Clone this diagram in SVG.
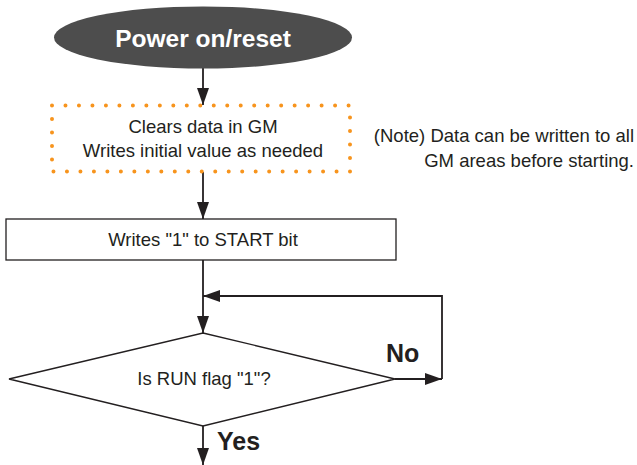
<svg xmlns="http://www.w3.org/2000/svg" width="637" height="465" viewBox="0 0 637 465">
<style>
text{font-family:"Liberation Sans",Arial,sans-serif;fill:#231f20}
.t{font-size:18.5px}
.b{font-size:25px;font-weight:bold}
.ln{stroke:#231f20;stroke-width:1.8;fill:none}
.sh{stroke:#231f20;stroke-width:1.3;fill:#fff}
</style>
<defs>
<marker id="ah" viewBox="0 0 17 12" refX="17" refY="6" markerWidth="17" markerHeight="12" markerUnits="userSpaceOnUse" orient="auto">
<path d="M0,0 L17,6 L0,12 Z" fill="#231f20"/>
</marker>
</defs>
<g id="connectors">
<line class="ln" x1="203" y1="68" x2="203" y2="105" marker-end="url(#ah)"/>
<line class="ln" x1="203" y1="172" x2="203" y2="219" marker-end="url(#ah)"/>
<line class="ln" x1="203" y1="260" x2="203" y2="333" marker-end="url(#ah)"/>
<line class="ln" x1="395" y1="379" x2="442" y2="379" marker-end="url(#ah)"/>
<polyline class="ln" points="442,379 442,296 203,296" marker-end="url(#ah)"/>
<line class="ln" x1="203" y1="426" x2="203" y2="465" marker-end="url(#ah)"/>
<text class="b" x="386" y="362">No</text>
<text class="b" x="217" y="450">Yes</text>
</g>
<g id="start">
<ellipse cx="203" cy="37.5" rx="149" ry="31" fill="#4d4d4d"/>
<text class="b" x="203" y="47" text-anchor="middle" style="fill:#fff;font-size:24.5px">Power on/reset</text>
</g>
<g id="clear">
<rect x="52" y="105.5" width="298" height="66" fill="none" stroke="#f7941d" stroke-width="4" stroke-linecap="round" stroke-dasharray="0 13.48"/>
<text class="t" x="203" y="133" text-anchor="middle">Clears data in GM</text>
<text class="t" x="203" y="157" text-anchor="middle">Writes initial value as needed</text>
</g>
<g id="note">
<text class="t" x="634" y="142" text-anchor="end">(Note) Data can be written to all</text>
<text class="t" x="634" y="167" text-anchor="end">GM areas before starting.</text>
</g>
<g id="write">
<rect class="sh" x="6" y="219" width="390" height="41"/>
<text class="t" x="203" y="246" text-anchor="middle">Writes "1" to START bit</text>
</g>
<g id="decision">
<polygon class="sh" points="203,333 395,379 203,426 9,379"/>
<text class="t" x="204" y="385" text-anchor="middle">Is RUN flag "1"?</text>
</g>
</svg>
